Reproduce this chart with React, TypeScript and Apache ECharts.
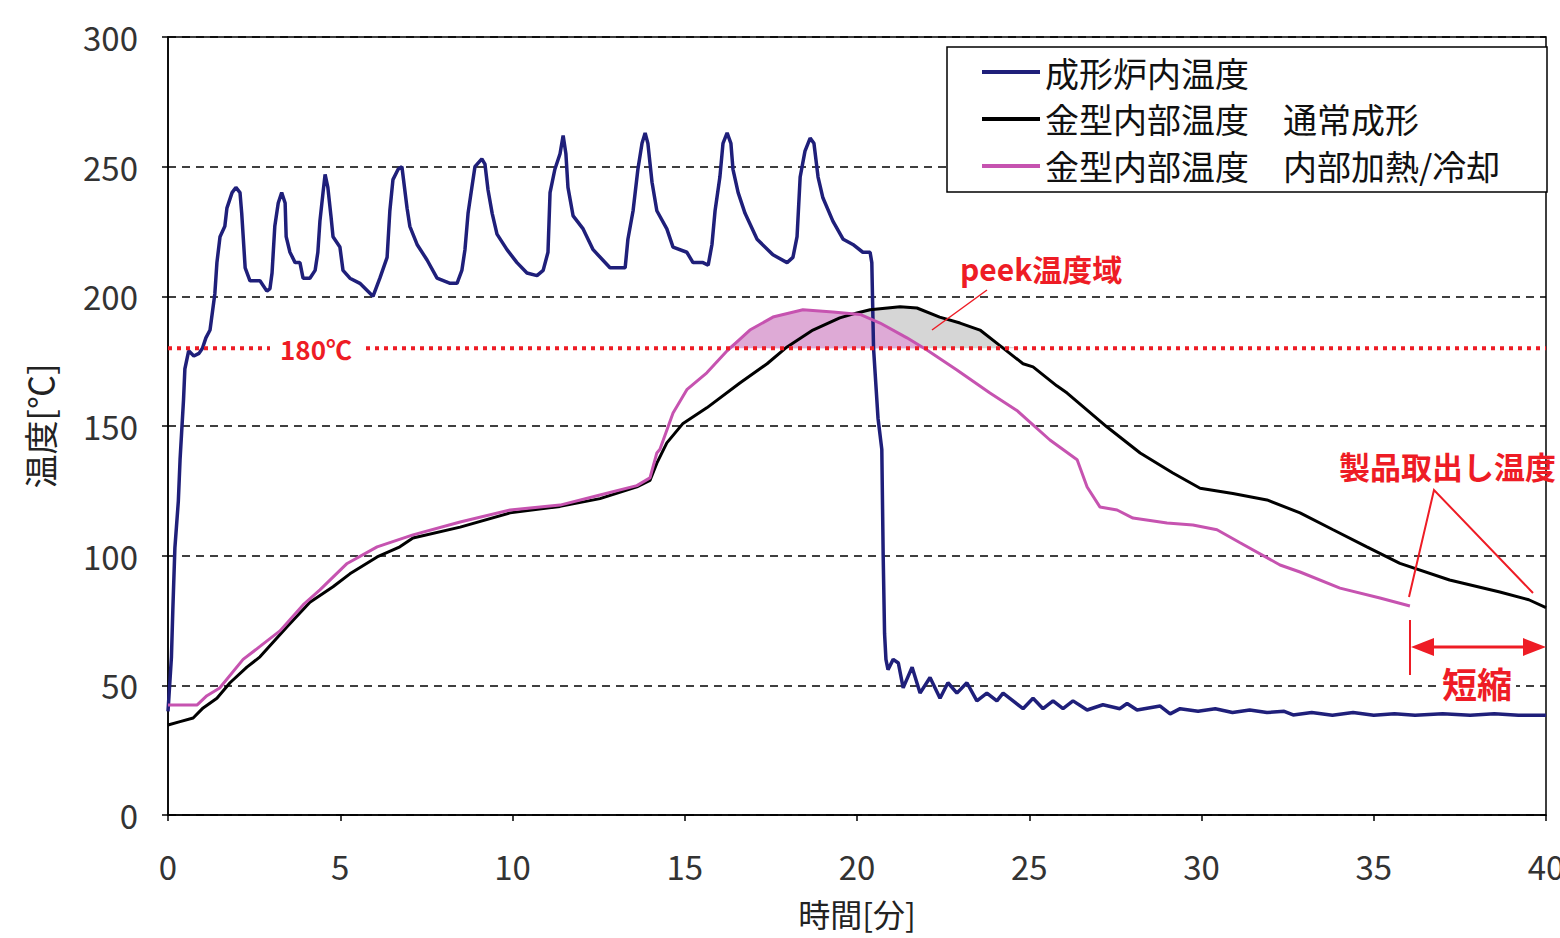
import React, { useEffect, useRef } from "react";
import * as echarts from "echarts";

// 成形炉内温度 (furnace temperature)
const T_FURNACE = [0, 0.1, 0.14, 0.2, 0.3, 0.35, 0.45, 0.49, 0.6, 0.75, 0.9, 1.0, 1.1, 1.22, 1.36, 1.42, 1.51, 1.65, 1.71, 1.86, 1.97, 2.09, 2.14, 2.24, 2.38, 2.67, 2.87, 2.96, 3.02, 3.1, 3.2, 3.3, 3.4, 3.43, 3.54, 3.69, 3.83, 3.92, 4.12, 4.27, 4.35, 4.41, 4.5, 4.56, 4.64, 4.73, 4.79, 4.99, 5.08, 5.28, 5.57, 5.95, 6.15, 6.36, 6.44, 6.53, 6.68, 6.79, 6.94, 7.02, 7.23, 7.52, 7.81, 8.19, 8.39, 8.53, 8.62, 8.71, 8.82, 8.91, 9.11, 9.2, 9.29, 9.41, 9.55, 9.84, 10.13, 10.42, 10.71, 10.89, 11.03, 11.09, 11.23, 11.38, 11.47, 11.55, 11.61, 11.76, 12.05, 12.34, 12.83, 13.27, 13.35, 13.5, 13.64, 13.76, 13.85, 13.93, 14.05, 14.19, 14.48, 14.66, 15.06, 15.24, 15.53, 15.68, 15.79, 15.88, 16.02, 16.11, 16.23, 16.34, 16.4, 16.55, 16.75, 17.1, 17.56, 17.97, 18.14, 18.26, 18.35, 18.49, 18.64, 18.75, 18.87, 19.01, 19.3, 19.6, 19.88, 20.17, 20.38, 20.43, 20.48, 20.61, 20.72, 20.76, 20.8, 20.84, 20.9, 21.05, 21.2, 21.34, 21.6, 21.83, 22.12, 22.41, 22.64, 22.9, 23.19, 23.48, 23.77, 24.06, 24.24, 24.53, 24.82, 25.11, 25.4, 25.69, 25.98, 26.27, 26.68, 27.14, 27.63, 27.84, 28.13, 28.8, 29.09, 29.38, 29.9, 30.4, 30.9, 31.4, 31.9, 32.4, 32.66, 33.2, 33.8, 34.4, 35.0, 35.6, 36.2, 37.0, 37.8, 38.5, 39.2, 40];
const V_FURNACE = [40, 61, 79, 103, 121, 137, 160, 172, 179, 177, 178, 180, 184, 187, 201, 213, 223, 227, 234, 240, 242, 240, 232, 211, 206, 206, 202, 203, 209, 227, 236, 240, 236, 223, 217, 213, 213, 207, 207, 210, 217, 229, 240, 247, 242, 231, 223, 219, 210, 207, 205, 200, 207, 215, 233, 245, 249, 250, 234, 227, 220, 214, 207, 205, 205, 210, 218, 232, 242, 250, 253, 251, 241, 232, 224, 218, 213, 209, 208, 210, 217, 240, 249, 255, 262, 255, 242, 231, 226, 218, 211, 211, 222, 233, 249, 259, 263, 259, 244, 233, 226, 219, 217, 213, 213, 212, 220, 233, 246, 259, 263, 259, 249, 240, 232, 222, 216, 213, 215, 223, 246, 256, 261, 259, 246, 238, 229, 222, 220, 217, 217, 213, 180, 153, 141, 100, 70, 60, 56, 60, 58.6, 49, 57, 47, 53, 45, 51, 47, 51, 44, 47, 44, 47, 44, 41, 45, 41, 44, 41, 44, 40.5, 42.5, 41, 43, 40.5, 42, 39, 41, 40, 41, 39.5, 40.5, 39.5, 40, 38.6, 39.5, 38.5, 39.5, 38.5, 39, 38.5, 39, 38.5, 39, 38.5, 38.5];

// 金型内部温度 通常成形 (normal molding)
const T_NORMAL = [0, 0.35, 0.73, 1.02, 1.42, 1.8, 2.29, 2.67, 3.45, 4.12, 4.79, 5.28, 6.07, 6.73, 7.11, 8.48, 9.93, 11.38, 12.54, 13.61, 13.99, 14.19, 14.48, 14.95, 15.64, 16.6, 17.39, 17.97, 18.72, 19.5, 20.0, 20.38, 21.25, 21.74, 22.4, 22.99, 23.57, 24.15, 24.82, 25.11, 25.8, 26.1, 27.26, 28.22, 29.17, 29.96, 30.91, 31.9, 32.86, 33.82, 34.8, 35.76, 37.2, 38.66, 39.5, 40];
const V_NORMAL = [34.7, 36, 37.4, 41.3, 45, 51, 57, 61, 72.5, 82, 88, 93, 99.5, 103.4, 106.8, 111, 116.5, 119, 122, 126.5, 129, 135.7, 143.5, 151, 157, 166.6, 174, 180.5, 187, 191.7, 193.6, 194.8, 196, 195.5, 192, 189.7, 187, 181, 174, 172.8, 165.5, 162.7, 149.6, 139.6, 131.9, 126, 124, 121.5, 116.5, 110, 103.4, 97, 90.6, 86, 83, 80];

// 金型内部温度 内部加熱/冷却 (internal heating/cooling)
const T_INTERNAL = [0, 0.84, 1.13, 1.5, 2.18, 2.67, 3.25, 3.92, 4.41, 5.2, 6.07, 7.11, 8.48, 9.93, 11.38, 12.54, 13.61, 13.99, 14.19, 14.28, 14.66, 15.06, 15.64, 16.23, 16.89, 17.56, 18.43, 19.3, 20.09, 20.67, 21.45, 22.03, 22.9, 23.86, 24.64, 25.6, 26.39, 26.68, 27.05, 27.55, 28.01, 29.0, 29.75, 30.45, 31.12, 32.28, 32.86, 34.02, 35.18, 36.05];
const V_INTERNAL = [42.4, 42.4, 46, 49, 60, 65, 71, 81, 86.8, 97, 103.4, 108, 113, 117.6, 119.5, 123.4, 127, 130, 139.6, 141, 155, 164, 170.5, 179, 187, 192, 194.8, 194, 193, 189.7, 184, 179.3, 171.6, 162.7, 156, 144.6, 137, 126.5, 118.8, 117.6, 114.5, 112.6, 111.8, 110, 105, 96.4, 93.7, 87.5, 83.7, 80.6];

const X_TICKS = { min: 0, max: 40, interval: 5 };
const Y_TICKS = { min: 0, max: 300, interval: 50 };
const PEEK_LEVEL = 180;

const SERIES_NAMES = ["成形炉内温度", "金型内部温度\u3000通常成形", "金型内部温度\u3000内部加熱/冷却"];

const RED = "#ee1c25";
const FONT = '"Noto Sans CJK JP", "Noto Sans", sans-serif';

const zip = (t: number[], v: number[]) => t.map((x, i) => [x, v[i]]);
const clipAbove = (t: number[], v: number[], lvl: number) => t.map((x, i) => [x, Math.max(v[i], lvl)]);

export default function App() {
  const ref = useRef<HTMLDivElement>(null);
  useEffect(() => {
    if (!ref.current) return;
    const chart = echarts.init(ref.current, undefined, { renderer: "svg" });
    const option: any = {
      animation: false,
      backgroundColor: "#fff",
      textStyle: { fontFamily: FONT },
      grid: {
        left: 168, top: 37, right: 14, bottom: 123,
        containLabel: false, outerBoundsMode: "none",
        show: true, borderColor: "#000", borderWidth: 1.5, backgroundColor: "transparent",
      },
      legend: {
        data: SERIES_NAMES,
        orient: "vertical",
        left: 982, top: 55, padding: 0,
        itemWidth: 58, itemHeight: 4, itemGap: 13, icon: "rect",
        textStyle: { fontSize: 34, color: "#111", fontFamily: FONT },
        z: 20,
      },
      xAxis: {
        type: "value",
        min: X_TICKS.min, max: X_TICKS.max, interval: X_TICKS.interval,
        name: "時間[分]", nameLocation: "middle", nameGap: 82,
        nameTextStyle: { fontSize: 32, color: "#222", fontFamily: FONT },
        axisLine: { lineStyle: { color: "#000", width: 1.5 } },
        axisTick: { show: true, length: 6, lineStyle: { color: "#000", width: 1.5 } },
        axisLabel: { fontSize: 33, color: "#333", margin: 34, fontFamily: FONT },
        splitLine: { show: false },
      },
      yAxis: {
        type: "value",
        min: Y_TICKS.min, max: Y_TICKS.max, interval: Y_TICKS.interval,
        name: "温度[℃]", nameLocation: "middle", nameGap: 112, nameRotate: 90,
        nameTextStyle: { fontSize: 34, color: "#222", fontFamily: FONT },
        axisLine: { show: true, lineStyle: { color: "#000", width: 1.5 } },
        axisTick: { show: true, length: 6, lineStyle: { color: "#000", width: 1.5 } },
        axisLabel: { fontSize: 33, color: "#333", margin: 30, fontFamily: FONT },
        splitLine: { show: true, lineStyle: { color: "#000", width: 1.5, type: [8, 6] } },
      },
      series: [
        {
          type: "line", name: "fill-normal", data: clipAbove(T_NORMAL, V_NORMAL, PEEK_LEVEL),
          symbol: "none", silent: true, z: 1,
          lineStyle: { width: 0, opacity: 0 },
          areaStyle: { origin: PEEK_LEVEL, color: "#d6d6d6", opacity: 1 },
        },
        {
          type: "line", name: "fill-internal", data: clipAbove(T_INTERNAL, V_INTERNAL, PEEK_LEVEL),
          symbol: "none", silent: true, z: 1,
          lineStyle: { width: 0, opacity: 0 },
          areaStyle: { origin: PEEK_LEVEL, color: "#deaad6", opacity: 1 },
        },
        {
          type: "line", name: SERIES_NAMES[0], data: zip(T_FURNACE, V_FURNACE),
          symbol: "none", z: 3, color: "#1f1f7a",
          lineStyle: { width: 3.5, color: "#1f1f7a" },
        },
        {
          type: "line", name: SERIES_NAMES[1], data: zip(T_NORMAL, V_NORMAL),
          symbol: "none", z: 3, color: "#000000",
          lineStyle: { width: 3, color: "#000000" },
        },
        {
          type: "line", name: SERIES_NAMES[2], data: zip(T_INTERNAL, V_INTERNAL),
          symbol: "none", z: 3, color: "#c653b0",
          lineStyle: { width: 3, color: "#c653b0" },
        },
        {
          type: "line", name: "line-180", data: [[X_TICKS.min, PEEK_LEVEL], [X_TICKS.max, PEEK_LEVEL]],
          symbol: "none", silent: true, z: 4,
          lineStyle: { width: 4, color: RED, type: [4, 5] },
        },
      ],
      graphic: [
        {
          type: "rect", z: 10,
          shape: { x: 947, y: 47, width: 600, height: 145 },
          style: { fill: "#fff", stroke: "#000", lineWidth: 1.5 },
        },
        {
          type: "text", z: 12, x: 316, y: 348,
          style: {
            text: "180℃", fill: RED, font: `bold 26px ${FONT}`,
            align: "center", verticalAlign: "middle", backgroundColor: "#fff", padding: [0, 10],
          },
        },
        {
          type: "text", z: 12, x: 960, y: 268,
          style: { text: "peek温度域", fill: RED, font: `bold 30px ${FONT}`, align: "left", verticalAlign: "middle" },
        },
        {
          type: "line", z: 12,
          shape: { x1: 987, y1: 290, x2: 932, y2: 330 },
          style: { stroke: RED, lineWidth: 1.5 },
        },
        {
          type: "text", z: 12, x: 1339, y: 465,
          style: { text: "製品取出し温度", fill: RED, font: `bold 31px ${FONT}`, align: "left", verticalAlign: "middle" },
        },
        {
          type: "polyline", z: 12,
          shape: { points: [[1409, 597], [1434, 490], [1533, 593]] },
          style: { stroke: RED, lineWidth: 2, fill: null },
        },
        {
          type: "line", z: 12,
          shape: { x1: 1410, y1: 620, x2: 1410, y2: 675 },
          style: { stroke: RED, lineWidth: 2 },
        },
        {
          type: "line", z: 12,
          shape: { x1: 1428, y1: 647, x2: 1528, y2: 647 },
          style: { stroke: RED, lineWidth: 3 },
        },
        {
          type: "polygon", z: 12,
          shape: { points: [[1411, 647], [1434, 638], [1434, 656]] },
          style: { fill: RED },
        },
        {
          type: "polygon", z: 12,
          shape: { points: [[1546, 647], [1523, 638], [1523, 656]] },
          style: { fill: RED },
        },
        {
          type: "text", z: 12, x: 1477, y: 682,
          style: {
            text: "短縮", fill: RED, font: `bold 35px ${FONT}`,
            align: "center", verticalAlign: "middle", backgroundColor: "#fff", padding: [0, 4],
          },
        },
      ],
    };
    chart.setOption(option);
    return () => chart.dispose();
  }, []);
  return (
    <div
      ref={ref}
      style={{ position: "fixed", left: 0, top: 0, width: 1560, height: 938, background: "#fff" }}
    />
  );
}
